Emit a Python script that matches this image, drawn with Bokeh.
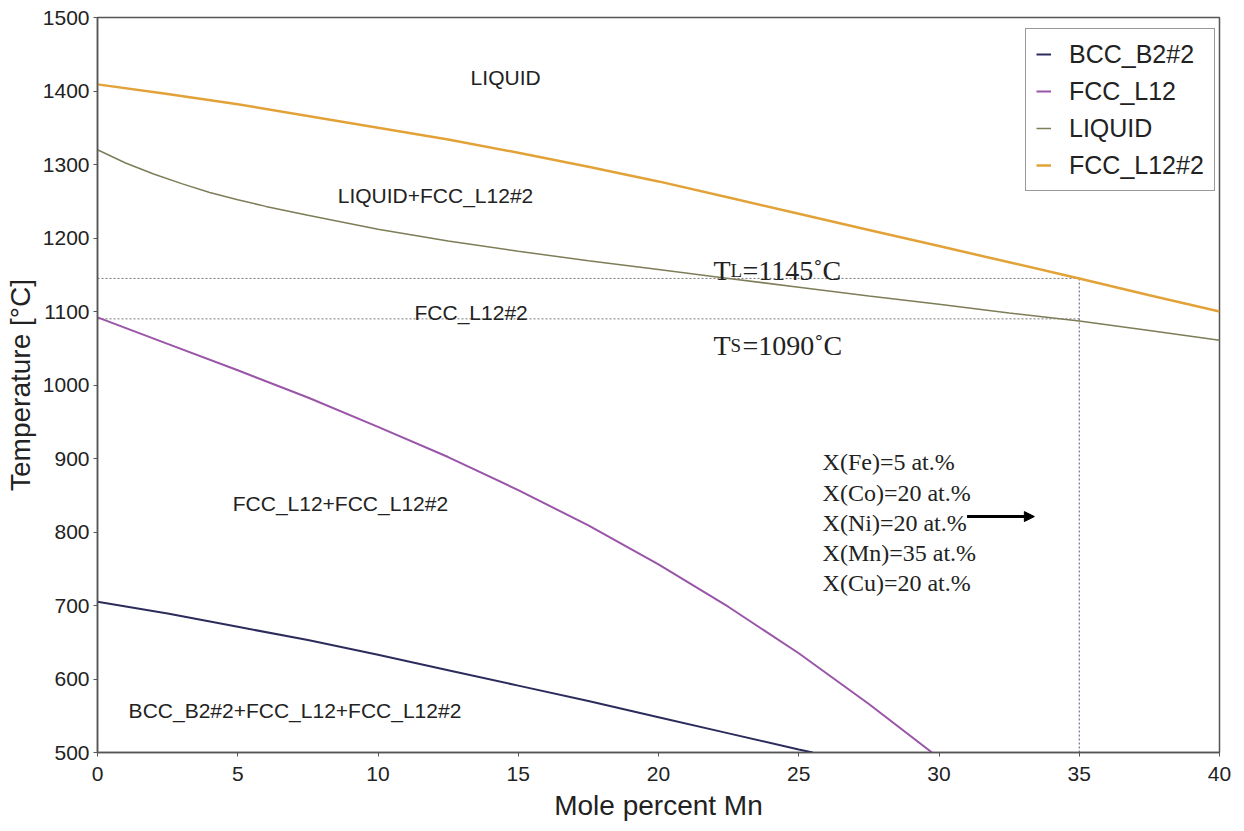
from bokeh.plotting import figure
from bokeh.models import Range1d, FixedTicker, Legend, LegendItem, Arrow, NormalHead
from bokeh.core.properties import value
from bokeh.embed import file_html
from bokeh.resources import INLINE

# Phase boundary lines: mole percent Mn vs temperature (°C)
mn_bcc = [0, 2.5, 5, 7.5, 10, 12.5, 15, 17.5, 20, 22.5, 25, 25.5]
t_bcc = [705, 689, 671, 653, 633, 612, 591, 570, 548, 526, 504, 500]

mn_fcc = [0, 2.5, 5, 7.5, 10, 12.5, 15, 17.5, 20, 22.5, 25, 27.5, 29.75]
t_fcc = [1092, 1056, 1020, 983, 943, 902, 857, 809, 756, 698, 635, 566, 500]

mn_liq = [0, 1, 2, 3, 4, 5, 6, 7.5, 10, 12.5, 15, 17.5, 20, 22.5, 25, 27.5, 30, 32.5,
          35, 37.5, 40]
t_liq = [1320, 1302, 1287, 1274, 1262, 1252, 1243, 1231, 1212, 1196, 1182, 1169, 1157,
         1145, 1133, 1121, 1110, 1098, 1087, 1074, 1061]

mn_fcc2 = [0, 2.5, 5, 7.5, 10, 12.5, 15, 17.5, 20, 22.5, 25, 27.5, 30, 32.5, 35, 37.5, 40]
t_fcc2 = [1409, 1396, 1382, 1366, 1350, 1334, 1316, 1297, 1277, 1255, 1233, 1211, 1189,
          1167, 1145, 1122, 1100]

# Alloy composition and its liquidus / solidus
x_alloy = 35
t_liquidus = 1145
t_solidus = 1090
composition = ["X(Fe)=5 at.%", "X(Co)=20 at.%", "X(Ni)=20 at.%", "X(Mn)=35 at.%", "X(Cu)=20 at.%"]

# Phase-field names
region_names = ["LIQUID", "LIQUID+FCC_L12#2", "FCC_L12#2", "FCC_L12+FCC_L12#2",
                "BCC_B2#2+FCC_L12+FCC_L12#2"]
region_x = [14.55, 12.05, 13.32, 8.66, 7.04]
region_t = [1418, 1258, 1099, 839, 557]

x_ticks = [0, 5, 10, 15, 20, 25, 30, 35, 40]
y_ticks = [500, 600, 700, 800, 900, 1000, 1100, 1200, 1300, 1400, 1500]

SANS = "Liberation Sans"
SERIF = "Liberation Serif"

p = figure(width=1244, height=831, output_backend="svg", toolbar_location=None,
           x_range=Range1d(0, 40), y_range=Range1d(500, 1500),
           min_border_left=97, min_border_right=25, min_border_top=17, min_border_bottom=79)
p.background_fill_color = "white"
p.border_fill_color = "white"
p.outline_line_color = "#555555"
p.outline_line_width = 1.5
p.xgrid.visible = False
p.ygrid.visible = False

for ax in (p.xaxis[0], p.yaxis[0]):
    ax.axis_line_color = "#555555"
    ax.axis_line_width = 1.5
    ax.major_tick_line_color = "#555555"
    ax.major_tick_out = 4
    ax.major_tick_in = 0
    ax.minor_tick_line_color = None
    ax.major_label_text_font = SANS
    ax.major_label_text_font_size = "21px"
    ax.major_label_text_color = "#222222"
    ax.axis_label_text_font = SANS
    ax.axis_label_text_font_size = "28px"
    ax.axis_label_text_font_style = "normal"
    ax.axis_label_text_color = "#222222"

p.xaxis.ticker = FixedTicker(ticks=x_ticks)
p.yaxis.ticker = FixedTicker(ticks=y_ticks)
p.xaxis.axis_label = "Mole percent Mn"
p.yaxis.axis_label = "Temperature [°C]"
p.xaxis.major_label_standoff = 10
p.xaxis.axis_label_standoff = 6
p.yaxis.major_label_standoff = 4
p.yaxis.axis_label_standoff = 4

# Liquidus / solidus guide lines
p.line([0, x_alloy], [t_liquidus, t_liquidus], line_color="#777777", line_width=1, line_dash="2 2")
p.line([0, x_alloy], [t_solidus, t_solidus], line_color="#777777", line_width=1, line_dash="2 2")
p.line([x_alloy, x_alloy], [500, t_liquidus], line_color="#555577", line_width=1, line_dash="2 2")

# Phase boundaries
r_bcc = p.line(mn_bcc, t_bcc, line_color="#2c2c5c", line_width=2)
r_fcc = p.line(mn_fcc, t_fcc, line_color="#9a55a8", line_width=2)
r_liq = p.line(mn_liq, t_liq, line_color="#7d7d58", line_width=1.5)
r_fcc2 = p.line(mn_fcc2, t_fcc2, line_color="#e2a238", line_width=2.5)

legend = Legend(items=[
    LegendItem(label="BCC_B2#2", renderers=[r_bcc]),
    LegendItem(label="FCC_L12", renderers=[r_fcc]),
    LegendItem(label="LIQUID", renderers=[r_liq]),
    LegendItem(label="FCC_L12#2", renderers=[r_fcc2]),
], location=(928, 561))
legend.label_text_font = SANS
legend.label_text_font_size = "25px"
legend.label_text_color = "#222222"
legend.label_height = 30
legend.glyph_height = 30
legend.glyph_width = 15
legend.label_standoff = 18
legend.spacing = 7
legend.padding = 10
legend.margin = 0
legend.border_line_color = "#333333"
legend.border_line_width = 1
legend.background_fill_alpha = 1
p.add_layout(legend)

# Phase-field labels
p.text(x=region_x, y=region_t, text=region_names, text_font=value(SANS),
       text_font_size="21px", text_color="#222222", text_align="center",
       text_baseline="middle")

# T_L and T_S annotations (small-capital subscripts)
p.text(x=[21.96, 21.96], y=[1156, 1054], text=["T", "T"], text_font=value(SERIF),
       text_font_size="28px", text_color="#222222", text_baseline="alphabetic")
p.text(x=[21.96, 21.96], y=[1156, 1054], text=["L", "S"], x_offset=17,
       text_font=value(SERIF), text_font_size="19px", text_color="#222222",
       text_baseline="alphabetic")
p.text(x=[21.96, 21.96], y=[1156, 1054],
       text=[f"={t_liquidus}˚C", f"={t_solidus}˚C"], x_offset=29,
       text_font=value(SERIF), text_font_size="28px", text_color="#222222",
       text_baseline="alphabetic")

# Alloy composition block with arrow
p.text(x=[25.85] * len(composition), y=[895, 853, 812, 771, 730], text=composition,
       text_font=value(SERIF), text_font_size="24px", text_color="#222222",
       text_baseline="alphabetic")
p.add_layout(Arrow(x_start=31.0, y_start=821, x_end=33.4, y_end=821, line_width=3,
                   line_color="black",
                   end=NormalHead(size=10, fill_color="black", line_color="black")))

open("out.html", "w").write(file_html(p, INLINE))
